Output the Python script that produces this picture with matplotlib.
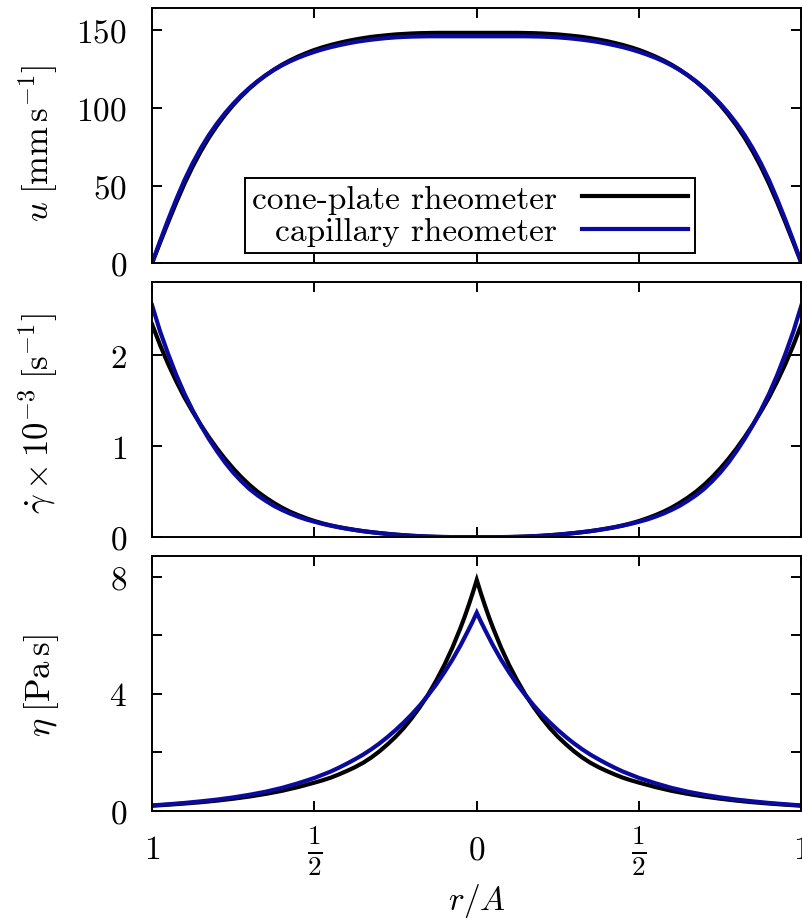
import numpy as np
import matplotlib
matplotlib.use('Agg')
import matplotlib.pyplot as plt

plt.rcParams['mathtext.fontset'] = 'cm'
plt.rcParams['font.family'] = 'cmr10'
plt.rcParams['axes.unicode_minus'] = False

# ---- data (half profiles, r/A from 0 to 1; the profiles are symmetric about r = 0) ----
r_u = [0, .025, .05, .075, .1, .125, .15, .175, .2, .225, .25, .275, .3, .325, .35, .375, .4,
       .425, .45, .475, .5, .525, .55, .575, .6, .625, .65, .675, .7, .725, .75, .775, .8,
       .825, .85, .875, .9, .925, .95, .975, 1]
u_cone = [148.2, 148.2, 148.2, 148.2, 148.2, 148.2, 148.1, 148.0, 147.8, 147.5, 147.2, 146.7,
          146.2, 145.6, 144.8, 143.9, 142.9, 141.7, 140.4, 138.9, 137.2, 135.2, 133.0, 130.5,
          127.7, 124.5, 120.9, 116.9, 112.4, 107.4, 101.8, 95.5, 88.5, 80.7, 71.9, 62.1,
          51.2, 39.2, 26.5, 13.4, 0.0]
u_cap = [146.0, 146.0, 146.0, 146.0, 146.0, 146.0, 146.0, 145.9, 145.8, 145.6, 145.3, 144.9,
         144.4, 143.8, 143.1, 142.3, 141.3, 140.2, 139.0, 137.6, 136.0, 134.2, 132.2, 129.9,
         127.3, 124.3, 120.9, 117.1, 112.8, 108.0, 102.6, 96.6, 89.9, 82.4, 73.9, 64.3,
         53.5, 41.3, 28.2, 14.4, 0.0]

r_gd = r_u
gd_cone = [0, 0.0001, 0.0004, 0.001, 0.002, 0.004, 0.007, 0.011, 0.016, 0.022, 0.029, 0.037,
           0.046, 0.056, 0.067, 0.080, 0.095, 0.111, 0.130, 0.152, 0.178, 0.208, 0.242, 0.280,
           0.325, 0.377, 0.435, 0.500, 0.575, 0.660, 0.755, 0.860, 0.975, 1.100, 1.235, 1.380,
           1.535, 1.710, 1.900, 2.110, 2.340]
gd_cap = [0, 0.0001, 0.0004, 0.001, 0.002, 0.004, 0.007, 0.011, 0.015, 0.021, 0.028, 0.036,
          0.045, 0.055, 0.066, 0.079, 0.093, 0.109, 0.127, 0.147, 0.170, 0.195, 0.225, 0.260,
          0.300, 0.345, 0.400, 0.460, 0.530, 0.615, 0.710, 0.820, 0.945, 1.080, 1.230, 1.395,
          1.575, 1.780, 2.010, 2.260, 2.550]

r_eta = [0, .0125, .025, .0375, .05, .075, .1, .125, .15, .175, .2, .225, .25, .275, .3, .325,
         .35, .375, .4, .425, .45, .475, .5, .55, .6, .65, .7, .75, .8, .85, .9, .95, 1]
eta_cone = [7.90, 7.45, 7.03, 6.63, 6.26, 5.58, 4.98, 4.45, 3.97, 3.55, 3.17, 2.83, 2.53, 2.27,
            2.03, 1.82, 1.64, 1.49, 1.36, 1.24, 1.13, 1.04, 0.96, 0.81, 0.68, 0.575, 0.485,
            0.41, 0.345, 0.29, 0.245, 0.205, 0.17]
eta_cap = [6.78, 6.48, 6.20, 5.93, 5.66, 5.17, 4.73, 4.32, 3.95, 3.61, 3.30, 3.02, 2.76, 2.52,
           2.30, 2.10, 1.92, 1.76, 1.61, 1.47, 1.34, 1.23, 1.12, 0.94, 0.78, 0.65, 0.545,
           0.455, 0.38, 0.32, 0.265, 0.22, 0.18]

labels = ['cone-plate rheometer', 'capillary rheometer']
xtick_vals = [-1, -0.5, 0, 0.5, 1]
xtick_labels = [r'$1$', r'$\frac{1}{2}$', r'$0$', r'$\frac{1}{2}$', r'$1$']


def full(r, v):
    r = np.asarray(r, float)
    v = np.asarray(v, float)
    return np.concatenate([-r[::-1], r[1:]]), np.concatenate([v[::-1], v[1:]])


BLACK = '#000000'
BLUE = '#0a0a9e'
LW = 3.0

W, H = 803, 920
fig = plt.figure(figsize=(W / 100, H / 100), dpi=100)


def add_ax(top, bottom):
    return fig.add_axes([152 / W, 1 - bottom / H, (801.5 - 152) / W, (bottom - top) / H])


ax1 = add_ax(9.3, 264.3)
ax2 = add_ax(283.3, 538.2)
ax3 = add_ax(556.7, 811.7)

x, y = full(r_u, u_cone)
l1, = ax1.plot(x, y, color=BLACK, lw=LW, solid_joinstyle='round')
x, y = full(r_u, u_cap)
l2, = ax1.plot(x, y, color=BLUE, lw=LW, solid_joinstyle='round')

x, y = full(r_gd, gd_cone)
ax2.plot(x, y, color=BLACK, lw=LW, solid_joinstyle='round')
x, y = full(r_gd, gd_cap)
ax2.plot(x, y, color=BLUE, lw=LW, solid_joinstyle='round')

x, y = full(r_eta, eta_cone)
ax3.plot(x, y, color=BLACK, lw=LW, solid_joinstyle='miter')
x, y = full(r_eta, eta_cap)
ax3.plot(x, y, color=BLUE, lw=LW, solid_joinstyle='miter')

ax1.set_ylim(0, 164)
ax2.set_ylim(0, 2.8)
ax3.set_ylim(0, 8.73)

ax1.set_yticks([0, 50, 100, 150])
ax1.set_yticklabels([r'$0$', r'$50$', r'$100$', r'$150$'])
ax2.set_yticks([0, 1, 2])
ax2.set_yticklabels([r'$0$', r'$1$', r'$2$'])
ax3.set_yticks([0, 2, 4, 6, 8])
ax3.set_yticklabels([r'$0$', '', r'$4$', '', r'$8$'])

for ax in (ax1, ax2, ax3):
    ax.set_xlim(-1, 1)
    ax.set_xticks(xtick_vals)
    for s in ax.spines.values():
        s.set_linewidth(1.4)
    ax.tick_params(direction='in', length=7, width=1.4, top=True, right=True,
                   labelsize=24, pad=18)

ax1.tick_params(labelbottom=False)
ax2.tick_params(labelbottom=False)
ax3.tick_params(axis='x', pad=28)
ax3.set_xticklabels(xtick_labels, va='center')
for lab in ax3.get_xticklabels():
    if 'frac' in lab.get_text():
        lab.set_fontsize(28)

ax1.set_ylabel(r'$u\;[\mathrm{mm\,s^{-1}}]$', fontsize=25, va='center')
ax1.yaxis.set_label_coords(-0.176, 0.472)
ax2.set_ylabel(r'$\dot{\gamma}\times10^{-3}\;[\mathrm{s}^{-1}]$', fontsize=25, va='center')
ax2.yaxis.set_label_coords(-0.176, 0.487)
ax3.set_ylabel(r'$\eta\;[\mathrm{Pa\,s}]$', fontsize=25, va='center')
ax3.yaxis.set_label_coords(-0.170, 0.493)
ax3.set_xlabel(r'$r/A$', fontsize=24, va='center')
ax3.xaxis.set_label_coords(0.5, -0.35)

leg = ax1.legend([l1, l2], labels, loc='lower left',
                 bbox_to_anchor=((245 - 152) / 649.5, (264.3 - 254) / 255),
                 borderaxespad=0, markerfirst=False, frameon=True, fancybox=False,
                 edgecolor='black', framealpha=1,
                 prop={'family': 'cmr10', 'size': 24},
                 handlelength=3.2, handletextpad=0.75, borderpad=0.2,
                 labelspacing=0.1)
leg.get_frame().set_linewidth(1.4)

fig.savefig('out.png', dpi=100)
